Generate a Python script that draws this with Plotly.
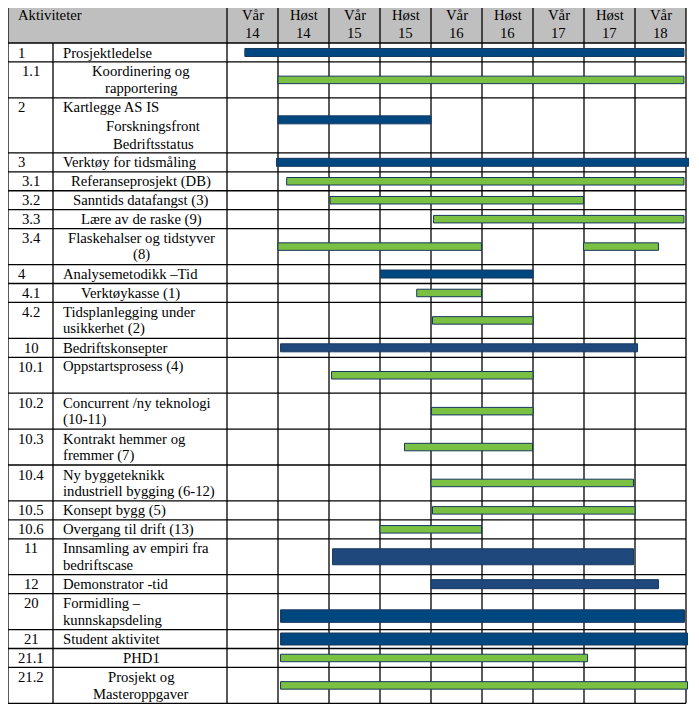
import plotly.graph_objects as go

# ---------------- data ----------------
PERIODS = ["Vår\n14", "Høst\n14", "Vår\n15", "Høst\n15", "Vår\n16",
           "Høst\n16", "Vår\n17", "Høst\n17", "Vår\n18"]

ROW_IDS = ["1", "1.1", "2", "3", "3.1", "3.2", "3.3", "3.4", "4", "4.1", "4.2",
           "10", "10.1", "10.2", "10.3", "10.4", "10.5", "10.6", "11", "12",
           "20", "21", "21.1", "21.2"]

ROW_NAMES = [
    "Prosjektledelse",
    "Koordinering og\nrapportering",
    "Kartlegge AS IS\nForskningsfront\nBedriftsstatus",
    "Verktøy for tidsmåling",
    "Referanseprosjekt (DB)",
    "Sanntids datafangst (3)",
    "Lære av de raske (9)",
    "Flaskehalser og tidstyver\n(8)",
    "Analysemetodikk –Tid",
    "Verktøykasse (1)",
    "Tidsplanlegging under\nusikkerhet (2)",
    "Bedriftskonsepter",
    "Oppstartsprosess (4)",
    "Concurrent /ny teknologi\n(10-11)",
    "Kontrakt hemmer og\nfremmer (7)",
    "Ny byggeteknikk\nindustriell bygging (6-12)",
    "Konsept bygg (5)",
    "Overgang til drift (13)",
    "Innsamling av empiri fra\nbedriftscase",
    "Demonstrator -tid",
    "Formidling –\nkunnskapsdeling",
    "Student aktivitet",
    "PHD1",
    "Prosjekt og\nMasteroppgaver",
]

ROW_LINES = [1, 2, 3, 1, 1, 1, 1, 2, 1, 1, 2, 1, 2, 2, 2, 2, 1, 1, 2, 1, 2, 1, 1, 2]

# bars: row id, start, end (in half-year periods from start of "Vår 14"), kind
BAR_ROW = ["1", "1.1", "2", "3", "3.1", "3.2", "3.3", "3.4", "3.4", "4", "4.1",
           "4.2", "10", "10.1", "10.2", "10.3", "10.4", "10.5", "10.6", "11",
           "12", "20", "21", "21.1", "21.2"]
BAR_START = [0.35, 1.00, 1.00, 0.97, 1.17, 2.02, 4.05, 1.00, 6.99, 3.01, 3.72,
             4.03, 1.05, 2.05, 4.01, 3.48, 4.00, 4.03, 3.00, 2.07,
             4.00, 1.05, 1.05, 1.05, 1.05]
BAR_END = [8.96, 8.96, 4.00, 9.05, 8.96, 6.99, 8.96, 4.99, 8.46, 6.00, 4.99,
           6.00, 8.05, 6.00, 6.00, 5.99, 7.97, 8.00, 4.99, 7.97,
           8.46, 8.97, 9.03, 7.07, 9.03]
BAR_KIND = ["main", "sub", "main", "main", "sub", "sub", "sub", "sub", "sub",
            "main", "sub", "sub", "main", "sub", "sub", "sub", "sub", "sub",
            "sub", "main", "main", "main", "main", "sub", "sub"]

# ---------------- layout / style ----------------
W, H = 699, 714
PAGE_OFF = 8.0         # page body margin: figure drawn offset by this
COL_PX = 51.0          # width of one period column
T0_PX = 227.0          # left edge of first period column
LEFT_PX = 8.0          # table left border
ID_DIV_PX = 53.0       # divider between id and activity columns
TOP_PX = 5.0
HEAD_PX = 43.0
LINE_H = {1: 18.95, 2: 35.9, 3: 55.0}

FONT = "Liberation Serif"
FS = 14.7
GRID = dict(color="black", width=1.3)
HEAD_FILL = "#bfbfbf"
BLUE = "#00467f"
BLUE2 = "#1f497d"
GREEN = "#7ac143"
EDGE = "#17375e"

BAR_THICK = {"main": 8, "sub": 7.5}
THICK_OVERRIDE = {"11": 16, "20": 12.5, "21": 12, "12": 9}
COLOR_OVERRIDE = {"10": BLUE2, "11": BLUE2, "12": BLUE2}
BAR_SHIFT = {"2": -5.5, "20": 4.5}

NAME_ALIGN = {  # 'L' left at activity indent, 'C' centred, number = centre px
    "1.1": "C", "3.1": "C", "3.2": "C", "3.3": "C", "3.4": "C",
    "4.1": 130, "21.1": "C", "21.2": "C",
}
ID_LEFT = {"1", "2", "3", "4"}


def px2x(px):
    return (px - T0_PX) / COL_PX


# row geometry (pixel-based y axis, reversed)
row_top = {}
row_bot = {}
y = HEAD_PX
for rid, n in zip(ROW_IDS, ROW_LINES):
    row_top[rid] = y
    y += LINE_H[n]
    row_bot[rid] = y
BOTTOM_PX = y

fig = go.Figure()

# bars
for kind in ["main", "sub"]:
    ys, bases, lens, widths, cols = [], [], [], [], []
    for r, s, e, k in zip(BAR_ROW, BAR_START, BAR_END, BAR_KIND):
        if k != kind:
            continue
        c = (row_top[r] + row_bot[r]) / 2 + BAR_SHIFT.get(r, 0)
        ys.append(c)
        bases.append(s)
        lens.append(e - s)
        widths.append(THICK_OVERRIDE.get(r, BAR_THICK[k]))
        cols.append(COLOR_OVERRIDE.get(r, BLUE if k == "main" else GREEN))
    fig.add_trace(go.Bar(
        orientation="h", y=ys, x=lens, base=bases, width=widths,
        marker=dict(color=cols, line=dict(color=EDGE, width=1)),
        showlegend=False, hoverinfo="skip",
    ))

shapes = []
x_left = px2x(LEFT_PX)
x_right = len(PERIODS)
# header fill
shapes.append(dict(type="rect", xref="x", yref="y", x0=x_left, x1=x_right,
                   y0=TOP_PX, y1=HEAD_PX, fillcolor=HEAD_FILL,
                   line=dict(width=0), layer="below"))
# horizontal lines
hlines = [TOP_PX, HEAD_PX] + [row_bot[r] for r in ROW_IDS]
for hy in hlines:
    shapes.append(dict(type="line", xref="x", yref="y", x0=x_left, x1=x_right,
                       y0=hy, y1=hy, line=GRID, layer="below"))
# vertical lines
for i in range(len(PERIODS) + 1):
    shapes.append(dict(type="line", xref="x", yref="y", x0=i, x1=i,
                       y0=TOP_PX, y1=BOTTOM_PX, line=GRID, layer="below"))
shapes.append(dict(type="line", xref="x", yref="y", x0=x_left, x1=x_left,
                   y0=TOP_PX, y1=BOTTOM_PX, line=GRID, layer="below"))
shapes.append(dict(type="line", xref="x", yref="y", x0=px2x(ID_DIV_PX),
                   x1=px2x(ID_DIV_PX), y0=HEAD_PX, y1=BOTTOM_PX, line=GRID,
                   layer="below"))

ann = []


def txt(x, y, s, anchor):
    ann.append(dict(x=x, y=y, xref="x", yref="y", text=s, showarrow=False,
                    xanchor=anchor, yanchor="middle",
                    font=dict(family=FONT, size=FS, color="black")))


# header text
txt(px2x(16), 15, "Aktiviteter", "left")
for i, p in enumerate(PERIODS):
    a, b = p.split("\n")
    txt(i + 0.5, 15, a, "center")
    txt(i + 0.5, 32.5, b, "center")

# rows
for rid, name in zip(ROW_IDS, ROW_NAMES):
    top = row_top[rid]
    # id
    if rid in ID_LEFT:
        txt(px2x(15.5), top + 9.5, rid, "left")
    else:
        txt(px2x(31), top + 9.5, rid, "center")
    lines = name.split("\n")
    al = NAME_ALIGN.get(rid, "L")
    spacing = 18.3 if len(lines) == 3 else 16.8
    for j, ln in enumerate(lines):
        yy = top + 9.5 + spacing * j
        if rid == "2" and j > 0:
            txt(px2x(153), yy, ln, "center")
        elif al == "L":
            txt(px2x(60.5), yy, ln, "left")
        elif al == "C":
            txt(px2x(141), yy, ln, "center")
        else:
            txt(px2x(al), yy, ln, "center")

fig.update_layout(
    width=W, height=H,
    margin=dict(l=0, r=0, t=0, b=0),
    paper_bgcolor="white", plot_bgcolor="white",
    barmode="overlay",
    shapes=shapes, annotations=ann,
    xaxis=dict(range=[px2x(PAGE_OFF), px2x(PAGE_OFF + W)], visible=False,
               fixedrange=True),
    yaxis=dict(range=[PAGE_OFF + H, PAGE_OFF], visible=False, fixedrange=True),
)

fig.write_html("out.html")
